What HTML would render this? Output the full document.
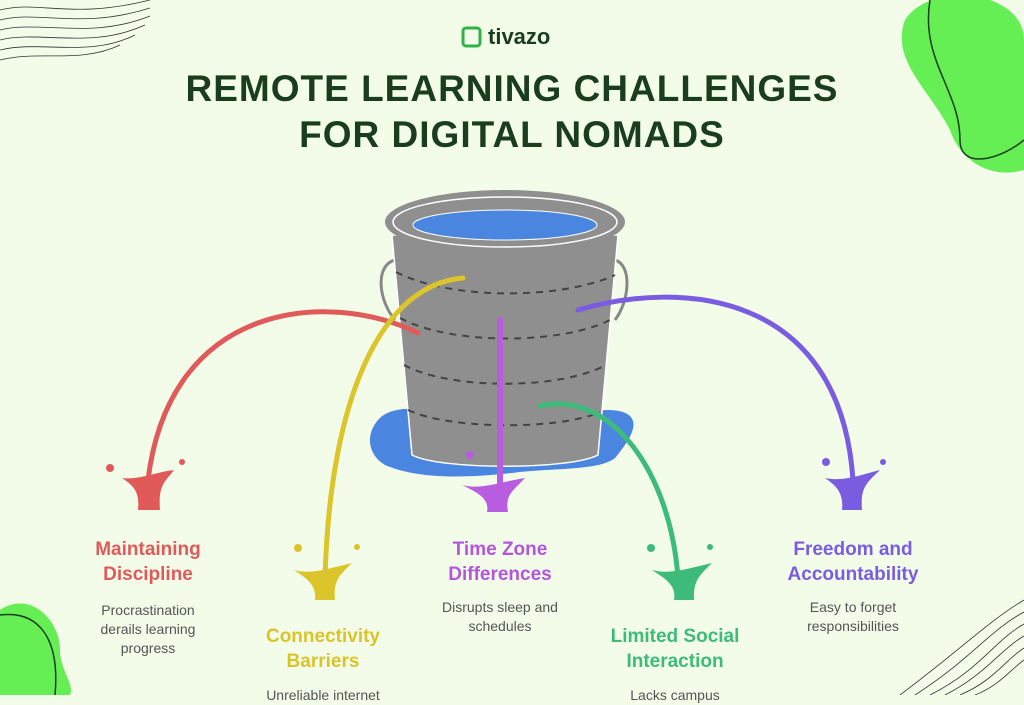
<!DOCTYPE html>
<html><head><meta charset="utf-8"><style>
body{margin:0;width:1024px;height:695px;overflow:hidden;background:#f2fce9;font-family:"Liberation Sans",sans-serif;position:relative}
.t{position:absolute;text-align:center;font-weight:bold;font-size:19px;line-height:25px;width:200px}
.d{position:absolute;text-align:center;color:#555;font-size:14px;line-height:19px;width:180px}
</style></head><body>
<svg width="1024" height="695" style="position:absolute;left:0;top:0">
<path d="M905 20 C930 -20 1024 -10 1024 40 L1024 170 C990 180 960 160 950 130 C930 90 890 60 905 20Z" fill="#66ee55"/>
<path d="M930 0 C920 60 960 90 960 140 C960 170 1000 160 1024 140" fill="none" stroke="#1a3d1f" stroke-width="1.5"/>
<path d="M0 610 C30 590 60 620 60 650 C60 670 75 685 70 695 L0 695Z" fill="#66ee55"/>
<path d="M0 615 C40 610 60 640 55 695" fill="none" stroke="#1a3d1f" stroke-width="1.5"/>
<g fill="none" stroke="#333" stroke-width="0.8">
<path d="M0 10 C40 0 70 20 150 0"/><path d="M0 20 C40 10 80 30 150 8"/><path d="M0 30 C40 20 90 40 150 16"/><path d="M0 40 C40 30 90 50 145 25"/><path d="M0 50 C40 40 90 58 135 35"/><path d="M0 60 C40 50 80 64 120 45"/>
<path d="M1024 600 C990 620 960 650 900 695"/><path d="M1024 612 C990 630 970 660 915 695"/><path d="M1024 624 C995 640 980 670 930 695"/><path d="M1024 636 C1000 650 985 675 945 695"/><path d="M1024 648 C1005 660 995 680 960 695"/><path d="M1024 660 C1010 670 1000 685 975 695"/>
</g>
<path d="M378 420 C395 400 440 412 470 414 L610 410 C650 412 630 440 615 458 C600 470 560 468 520 472 C470 478 420 480 385 465 C368 455 365 435 378 420Z" fill="#4a86e0"/>
<path d="M395 260 C375 265 378 300 395 320" fill="none" stroke="#888" stroke-width="3"/>
<path d="M615 260 C632 265 630 300 615 320" fill="none" stroke="#888" stroke-width="3"/>
<path d="M392 235 L618 235 L598 455 C570 470 440 470 412 455Z" fill="#8f8f8f" stroke="#fff" stroke-width="1.5"/>
<g fill="none" stroke="#444" stroke-width="2" stroke-dasharray="7 6">
<path d="M396 272 C450 300 560 300 615 275"/><path d="M400 318 C450 345 560 345 610 320"/><path d="M404 365 C450 390 560 390 606 365"/><path d="M408 410 C450 430 560 430 600 412"/>
</g>
<ellipse cx="505" cy="222" rx="120" ry="32" fill="#8f8f8f"/>
<ellipse cx="505" cy="222" rx="112" ry="25" fill="none" stroke="#fff" stroke-width="1.5"/>
<ellipse cx="505" cy="225" rx="92" ry="15" fill="#4a86e0" stroke="#fff" stroke-width="1"/>
<g fill="none" stroke-width="5" stroke-linecap="round">
<path d="M418 333 C330 290 170 300 148 480" stroke="#e05a5a"/>
<path d="M463 278 C380 285 330 400 325 578" stroke="#dcc52a"/>
<path d="M500 320 L500 485" stroke="#b85ce0" stroke-width="6"/>
<path d="M540 406 C610 390 670 470 678 578" stroke="#3dbb7a"/>
<path d="M578 310 C680 280 840 290 853 480" stroke="#7a5ce0"/>
</g>
<g>
<path d="M122 478 C140 480 156 472 174 470 C165 482 158 485 160 510 L138 510 C140 490 132 485 122 478Z" fill="#e05a5a"/><circle cx="110" cy="468" r="4" fill="#e05a5a"/><circle cx="182" cy="462" r="3" fill="#e05a5a"/>
<path d="M294 570 C312 575 330 568 352 563 C340 575 333 580 335 600 L315 600 C317 585 306 578 294 570Z" fill="#dcc52a"/><circle cx="298" cy="548" r="4" fill="#dcc52a"/><circle cx="357" cy="547" r="3" fill="#dcc52a"/>
<path d="M462 485 C480 490 500 482 525 478 C512 492 505 495 508 512 L487 512 C490 498 476 492 462 485Z" fill="#b85ce0"/><circle cx="470" cy="455" r="4" fill="#b85ce0"/><circle cx="448" cy="480" r="3" fill="#f2fce9"/>
<path d="M652 570 C670 575 690 568 712 563 C700 575 693 580 694 600 L674 600 C677 585 664 578 652 570Z" fill="#3dbb7a"/><circle cx="651" cy="548" r="4" fill="#3dbb7a"/><circle cx="710" cy="547" r="3" fill="#3dbb7a"/>
<path d="M825 478 C843 482 860 475 880 470 C868 482 860 486 862 510 L842 510 C844 492 835 485 825 478Z" fill="#7a5ce0"/><circle cx="826" cy="462" r="4" fill="#7a5ce0"/><circle cx="883" cy="462" r="3" fill="#7a5ce0"/>
</g>
<rect x="463" y="28" width="17" height="18" rx="3" fill="none" stroke="#2fb24a" stroke-width="3"/>
</svg>
<div style="position:absolute;left:488px;top:24px;font-size:22px;font-weight:bold;color:#1a3d1f">tivazo</div>
<div style="position:absolute;left:0;width:1024px;top:66px;text-align:center;font-size:37px;font-weight:bold;line-height:46px;color:#1a3d1f;letter-spacing:1px">REMOTE LEARNING CHALLENGES<br>FOR DIGITAL NOMADS</div>
<div class="t" style="left:48px;top:537px;color:#e05a5a">Maintaining<br>Discipline</div>
<div class="d" style="left:58px;top:601px">Procrastination<br>derails learning<br>progress</div>
<div class="t" style="left:223px;top:624px;color:#d9c42b">Connectivity<br>Barriers</div>
<div class="d" style="left:233px;top:686px">Unreliable internet</div>
<div class="t" style="left:400px;top:537px;color:#b455e0">Time Zone<br>Differences</div>
<div class="d" style="left:410px;top:598px">Disrupts sleep and<br>schedules</div>
<div class="t" style="left:575px;top:624px;color:#3dbb7a">Limited Social<br>Interaction</div>
<div class="d" style="left:585px;top:686px">Lacks campus</div>
<div class="t" style="left:753px;top:537px;color:#7a5ce0">Freedom and<br>Accountability</div>
<div class="d" style="left:763px;top:598px">Easy to forget<br>responsibilities</div>
</body></html>
